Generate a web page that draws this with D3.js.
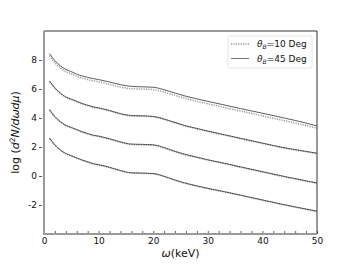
<!DOCTYPE html>
<html>
<head>
<meta charset="utf-8">
<script src="https://cdn.jsdelivr.net/npm/d3@7"></script>
<style>
  body { margin: 0; background: #fff; }
  text { font-family: "DejaVu Sans", sans-serif; }
</style>
</head>
<body>
<div id="chart"></div>
<script>
// photon energy samples (keV)
var omega = [1, 2, 3, 4, 5, 6, 7, 8, 9, 10, 12, 14, 16, 18, 20, 22, 24, 26, 28, 30, 33, 36, 40, 44, 48, 50];

// theta_B = 45 Deg (solid)
var s45a = [8.45, 7.95, 7.6, 7.35, 7.2, 7.02, 6.9, 6.8, 6.72, 6.65, 6.48, 6.3, 6.18, 6.15, 6.12, 5.95, 5.72, 5.5, 5.32, 5.15, 4.9, 4.65, 4.33, 4.0, 3.65, 3.45];
var s45b = [6.55, 6.08, 5.72, 5.45, 5.3, 5.15, 5.0, 4.88, 4.77, 4.7, 4.52, 4.3, 4.17, 4.15, 4.11, 3.93, 3.69, 3.46, 3.28, 3.1, 2.85, 2.6, 2.27, 1.95, 1.7, 1.57];
var s45c = [4.58, 4.1, 3.75, 3.5, 3.35, 3.2, 3.05, 2.93, 2.82, 2.75, 2.57, 2.35, 2.2, 2.18, 2.15, 1.96, 1.7, 1.48, 1.3, 1.12, 0.88, 0.63, 0.3, -0.03, -0.33, -0.48];
var s45d = [2.62, 2.15, 1.8, 1.55, 1.4, 1.25, 1.1, 0.98, 0.85, 0.78, 0.6, 0.38, 0.22, 0.2, 0.17, -0.02, -0.28, -0.5, -0.68, -0.85, -1.08, -1.32, -1.65, -1.98, -2.28, -2.43];

// theta_B = 10 Deg (dotted)
var s10a = [8.3, 7.8, 7.45, 7.2, 7.05, 6.87, 6.75, 6.65, 6.57, 6.5, 6.32, 6.13, 6.02, 6.0, 5.96, 5.79, 5.56, 5.34, 5.15, 4.98, 4.73, 4.48, 4.15, 3.82, 3.48, 3.29];
var s10b = [6.5, 6.04, 5.68, 5.42, 5.27, 5.12, 4.97, 4.85, 4.74, 4.67, 4.49, 4.27, 4.14, 4.12, 4.08, 3.9, 3.66, 3.43, 3.25, 3.07, 2.82, 2.57, 2.24, 1.92, 1.67, 1.54];
var s10c = [4.55, 4.07, 3.72, 3.47, 3.32, 3.17, 3.02, 2.9, 2.79, 2.72, 2.54, 2.32, 2.17, 2.15, 2.12, 1.93, 1.67, 1.45, 1.27, 1.09, 0.85, 0.6, 0.27, -0.06, -0.36, -0.51];
var s10d = [2.6, 2.12, 1.78, 1.53, 1.38, 1.23, 1.08, 0.96, 0.83, 0.76, 0.58, 0.36, 0.2, 0.18, 0.15, -0.04, -0.3, -0.52, -0.7, -0.87, -1.1, -1.34, -1.67, -2.0, -2.3, -2.45];

var xTicks = [0, 10, 20, 30, 40, 50];
var yTicks = [-2, 0, 2, 4, 6, 8];

var w = 352, h = 264;
var mLeft = 44, mRight = 317, mTop = 31, mBottom = 234;

var svg = d3.select("#chart").append("svg")
    .attr("width", w)
    .attr("height", h);

var xScale = d3.scaleLinear().domain([0, 50]).range([mLeft, mRight]);
var yScale = d3.scaleLinear().domain([-4, 10]).range([mBottom, mTop]);

function pairs(vals) {
    return omega.map(function (o, i) { return [o, vals[i]]; });
}

var line = d3.line()
    .curve(d3.curveMonotoneX)
    .x(function (d) { return xScale(d[0]); })
    .y(function (d) { return yScale(d[1]); });

// dotted curves
[s10a, s10b, s10c, s10d].forEach(function (s) {
    svg.append("path")
        .datum(pairs(s))
        .attr("fill", "none")
        .attr("stroke", "#999")
        .attr("stroke-width", 1.5)
        .attr("stroke-dasharray", "1.2,1.2")
        .attr("d", line);
});

// solid curves
[s45a, s45b, s45c, s45d].forEach(function (s) {
    svg.append("path")
        .datum(pairs(s))
        .attr("fill", "none")
        .attr("stroke", "#333")
        .attr("stroke-width", 0.8)
        .attr("d", line);
});

// frame: top/right dark thin, left/bottom grey thick
svg.append("line").attr("x1", mLeft).attr("x2", mRight).attr("y1", mTop).attr("y2", mTop)
    .attr("stroke", "#333").attr("stroke-width", 1);
svg.append("line").attr("x1", mRight).attr("x2", mRight).attr("y1", mTop).attr("y2", mBottom)
    .attr("stroke", "#333").attr("stroke-width", 1);

// x axis: inward ticks, major + minor every 2
var xAxis = d3.axisBottom(xScale)
    .tickValues(d3.range(0, 51, 2))
    .tickSize(-3)
    .tickFormat(function (d) { return xTicks.indexOf(d) >= 0 ? d : ""; });
var gx = svg.append("g")
    .attr("transform", "translate(0," + mBottom + ")")
    .call(xAxis);
gx.select(".domain").remove();
gx.selectAll(".tick line").attr("stroke", "#333").attr("stroke-width", 0.8);
gx.selectAll(".tick text").attr("font-size", 9).attr("fill", "#111").attr("y", 4)
    .attr("font-family", "DejaVu Sans");

var yAxis = d3.axisLeft(yScale)
    .tickValues(yTicks)
    .tickSize(3)
    .tickPadding(2)
    .tickFormat(function (d) { return d < 0 ? "-" + Math.abs(d) : d; });
var gy = svg.append("g")
    .attr("transform", "translate(" + (mLeft - 2) + ",0)")
    .call(yAxis);
gy.select(".domain").remove();
gy.selectAll(".tick line").attr("stroke", "#333").attr("stroke-width", 0.8);
gy.selectAll(".tick text").attr("font-size", 9).attr("fill", "#111")
    .attr("font-family", "DejaVu Sans");

svg.append("line").attr("x1", mLeft).attr("x2", mLeft).attr("y1", mTop).attr("y2", mBottom + 1)
    .attr("stroke", "#999").attr("stroke-width", 2);
svg.append("line").attr("x1", mLeft - 1).attr("x2", mRight).attr("y1", mBottom).attr("y2", mBottom)
    .attr("stroke", "#999").attr("stroke-width", 2);

// axis labels
var xl = svg.append("text")
    .attr("x", (mLeft + mRight) / 2)
    .attr("y", 257)
    .attr("text-anchor", "middle")
    .attr("font-size", 11)
    .attr("fill", "#111");
xl.append("tspan").attr("font-style", "italic").text("ω");
xl.append("tspan").text("(keV)");

var yl = svg.append("text")
    .attr("transform", "translate(19," + ((mTop + mBottom) / 2) + ") rotate(-90)")
    .attr("text-anchor", "middle")
    .attr("font-size", 11)
    .attr("fill", "#111");
yl.append("tspan").text("log (");
yl.append("tspan").attr("font-style", "italic").text("d");
yl.append("tspan").attr("font-size", 7.5).attr("dy", -4).text("2");
yl.append("tspan").attr("font-style", "italic").attr("dy", 4).text("N/dωdμ");
yl.append("tspan").text(")");

// legend
var legend = svg.append("g");
legend.append("rect")
    .attr("x", 228).attr("y", 36)
    .attr("width", 84).attr("height", 32)
    .attr("rx", 2)
    .attr("fill", "#fff")
    .attr("stroke", "#ddd")
    .attr("stroke-width", 0.8);

var legendItems = [
    { label: "10", dash: "1.2,1.2", color: "#999", sw: 1.5 },
    { label: "45", dash: null, color: "#555", sw: 0.8 }
];
legendItems.forEach(function (d, i) {
    var y = 44 + i * 14.5;
    legend.append("line")
        .attr("x1", 231).attr("x2", 249)
        .attr("y1", y).attr("y2", y)
        .attr("stroke", d.color)
        .attr("stroke-width", d.sw)
        .attr("stroke-dasharray", d.dash);
    var t = legend.append("text")
        .attr("x", 257).attr("y", y + 3.3)
        .attr("font-size", 9)
        .attr("fill", "#111");
    t.append("tspan").attr("font-style", "italic").text("θ");
    t.append("tspan").attr("font-style", "italic").attr("font-size", 6).attr("dy", 2).text("B");
    t.append("tspan").attr("dy", -2).text("=" + d.label + " Deg");
});
</script>
</body>
</html>
